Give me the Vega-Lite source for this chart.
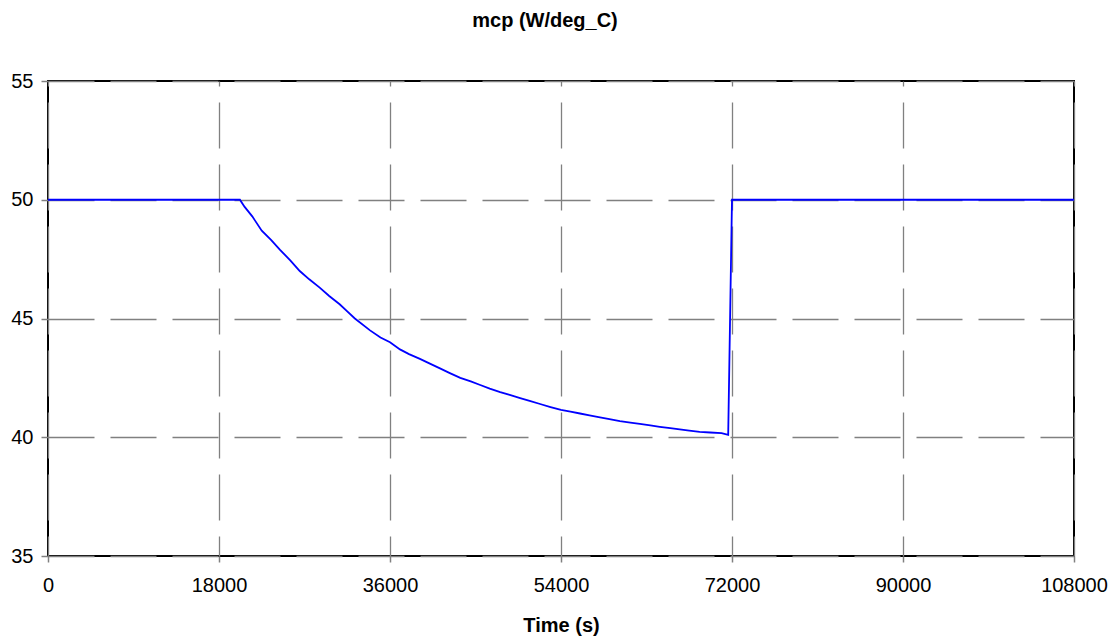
{
  "$schema": "https://vega.github.io/schema/vega-lite/v6.json",
  "width": 1026,
  "height": 475,
  "autosize": {"type": "none"},
  "padding": {"left": 48, "top": 81, "right": 41, "bottom": 84},
  "background": "white",
  "config": {
    "font": "Liberation Sans",
    "view": {"stroke": "#000000", "strokeWidth": 2}
  },
  "title": {
    "text": "mcp (W/deg_C)",
    "fontSize": 20,
    "fontWeight": "bold",
    "font": "Liberation Sans",
    "color": "#000000",
    "anchor": "middle",
    "offset": 40,
    "dx": -16,
    "limit": 0
  },
  "data": {
    "values": [
      {"t": 0, "v": 50},
      {"t": 20200, "v": 50},
      {"t": 20700, "v": 49.7},
      {"t": 21500, "v": 49.3},
      {"t": 22500, "v": 48.7},
      {"t": 23500, "v": 48.3},
      {"t": 24400, "v": 47.9},
      {"t": 25500, "v": 47.45},
      {"t": 26500, "v": 47.0},
      {"t": 27500, "v": 46.65},
      {"t": 28600, "v": 46.3},
      {"t": 29600, "v": 45.95},
      {"t": 30700, "v": 45.6},
      {"t": 31500, "v": 45.3},
      {"t": 32300, "v": 45.0},
      {"t": 33900, "v": 44.5},
      {"t": 35000, "v": 44.2},
      {"t": 36000, "v": 44.0},
      {"t": 37050, "v": 43.7},
      {"t": 38000, "v": 43.5},
      {"t": 39150, "v": 43.3},
      {"t": 40200, "v": 43.1},
      {"t": 41260, "v": 42.9},
      {"t": 42300, "v": 42.7},
      {"t": 43400, "v": 42.5},
      {"t": 44500, "v": 42.35},
      {"t": 45500, "v": 42.2},
      {"t": 46500, "v": 42.05},
      {"t": 47600, "v": 41.9},
      {"t": 48600, "v": 41.78},
      {"t": 49700, "v": 41.65},
      {"t": 50700, "v": 41.53},
      {"t": 51800, "v": 41.4},
      {"t": 52900, "v": 41.27},
      {"t": 54000, "v": 41.15},
      {"t": 55000, "v": 41.08},
      {"t": 56000, "v": 41.0},
      {"t": 57000, "v": 40.92},
      {"t": 58100, "v": 40.84},
      {"t": 59100, "v": 40.76},
      {"t": 60200, "v": 40.68},
      {"t": 61300, "v": 40.62},
      {"t": 62300, "v": 40.56},
      {"t": 63400, "v": 40.5},
      {"t": 64400, "v": 40.44},
      {"t": 65500, "v": 40.38},
      {"t": 66500, "v": 40.33},
      {"t": 67500, "v": 40.28},
      {"t": 68600, "v": 40.23},
      {"t": 69700, "v": 40.2},
      {"t": 70900, "v": 40.17},
      {"t": 71600, "v": 40.1},
      {"t": 72000, "v": 50},
      {"t": 108000, "v": 50}
    ]
  },
  "mark": {"type": "line", "color": "#0000FF", "strokeWidth": 1.8, "clip": true},
  "encoding": {
    "x": {
      "field": "t",
      "type": "quantitative",
      "scale": {"domain": [0, 108000], "nice": false, "zero": false},
      "axis": {
        "values": [0, 18000, 36000, 54000, 72000, 90000, 108000],
        "format": "d",
        "title": "Time (s)",
        "titleFontSize": 20,
        "titleFontWeight": "bold",
        "titleColor": "#000000",
        "titlePadding": 20,
        "labelFontSize": 20,
        "labelColor": "#000000",
        "labelPadding": 13,
        "labelFlush": false,
        "labelOverlap": false,
        "domain": false,
        "ticks": true,
        "tickSize": 6,
        "tickColor": "#808080",
        "tickWidth": 1.5,
        "grid": true,
        "gridColor": "#808080",
        "gridWidth": 1.3,
        "gridDash": [46, 16],
        "gridDashOffset": 41
      }
    },
    "y": {
      "field": "v",
      "type": "quantitative",
      "scale": {"domain": [35, 55], "nice": false, "zero": false},
      "axis": {
        "values": [35, 40, 45, 50, 55],
        "title": null,
        "labelFontSize": 20,
        "labelColor": "#000000",
        "labelPadding": 8,
        "labelFlush": false,
        "domain": false,
        "ticks": true,
        "tickSize": 7,
        "tickColor": "#808080",
        "tickWidth": 1.5,
        "grid": true,
        "gridColor": "#808080",
        "gridWidth": 1.3,
        "gridDash": [46, 16]
      }
    }
  }
}
